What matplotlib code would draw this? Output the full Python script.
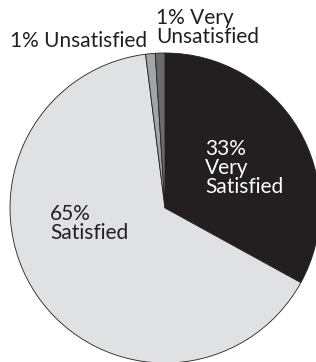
import matplotlib.pyplot as plt

# data
labels = ['Very Satisfied', 'Satisfied', 'Unsatisfied', 'Very Unsatisfied']
values = [33, 65, 1, 1]
colors = ['#231f20', '#e0e1e3', '#a3a4a6', '#6a6b6d']

W, H = 316, 362
cx, cy, r = 165, 208, 155   # pie centre / radius in pixels


def px(x, y):
    return (x - cx) / r, (cy - y) / r


fig = plt.figure(figsize=(W / 100, H / 100), dpi=100)
ax = fig.add_axes([0, 0, 1, 1])
ax.pie(values, colors=colors, startangle=90, counterclock=False, radius=1,
       wedgeprops=dict(edgecolor='#231f20', linewidth=0.6))
ax.set_aspect('auto')
ax.set_xlim(-cx / r, (W - cx) / r)
ax.set_ylim((cy - H) / r, cy / r)
ax.axis('off')

font = dict(family='Lato', fontsize=15, color='#231f20', va='top',
            ha='left', linespacing=0.95)

ax.text(*px(205, 139), '{}%\nVery\nSatisfied'.format(values[0]),
        **dict(font, color='white'))
ax.text(*px(50, 204), '{}%\n{}'.format(values[1], labels[1]), **font)
ax.text(*px(10, 31), '{}% {}'.format(values[2], labels[2]), **font)
ax.text(*px(156, 8), '{}% Very\nUnsatisfied'.format(values[3]), **font)

fig.savefig('out.png', dpi=100)
